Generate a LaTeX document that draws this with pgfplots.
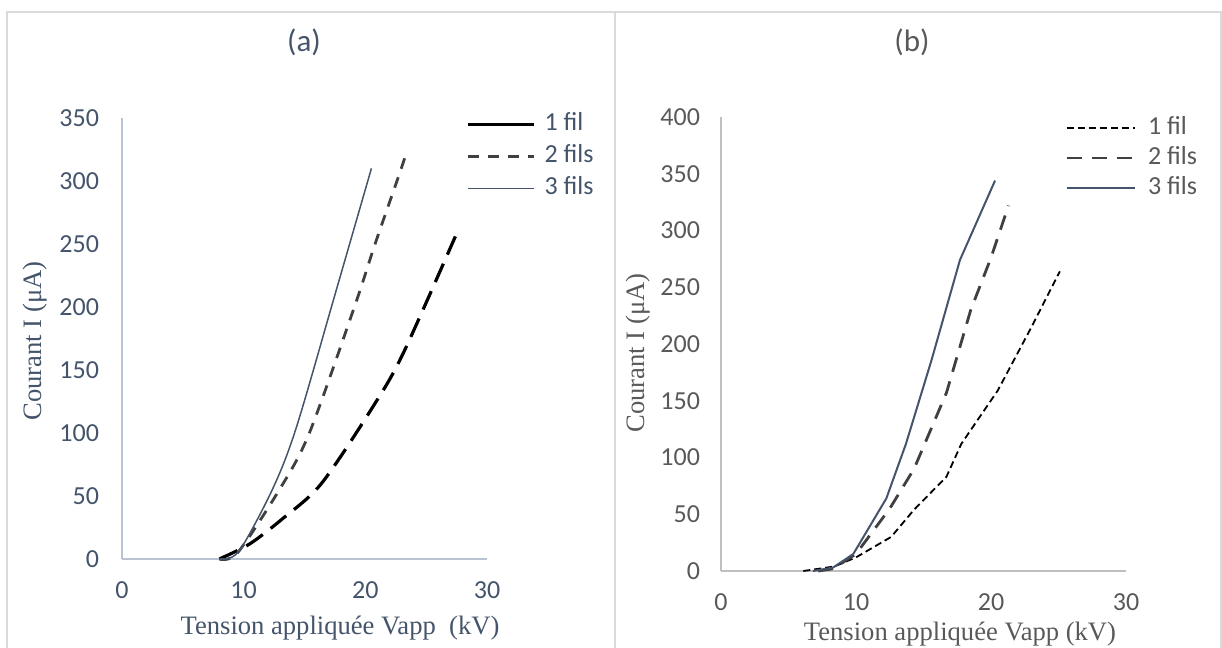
\documentclass[border=0pt]{standalone}
\usepackage{fontspec}
\setmainfont{Liberation Serif}
\newfontfamily\calibri{Carlito}
\usepackage{pgfplots}
\pgfplotsset{compat=1.18}
\definecolor{slate}{HTML}{44546A}
\definecolor{dgray}{HTML}{404040}
\definecolor{axA}{RGB}{185,195,210}
\definecolor{axB}{RGB}{191,191,191}
\definecolor{txB}{HTML}{595959}
\definecolor{frameC}{RGB}{217,217,217}
\pgfplotsset{
  mystyle/.style={
    scale only axis, anchor=south west, axis lines=left, axis line style={-},
    major tick length=0pt, xmin=0, xmax=30, ymin=0,
    xtick={0,10,20,30},
    ticklabel style={font=\calibri\fontsize{13}{15.6}\selectfont},
    /pgf/number format/assume math mode=true,
    xticklabel style={yshift=-8pt},
    yticklabel style={xshift=-8pt},
    clip=false,
    legend cell align=left,
    legend image code/.code={\draw[##1] (0pt,0pt) -- (33pt,0pt);},
    legend style={draw=none, fill=none, inner sep=0pt, column sep=5pt, row sep=3pt,
      font=\calibri\fontsize{13}{15.6}\selectfont,
      nodes={inner sep=0pt, text height=9pt, text depth=3pt}},
  }
}
\begin{document}
\begin{tikzpicture}
\useasboundingbox (0pt,0pt) rectangle (611pt,324pt);
\draw[frameC, line width=0.75pt] (3.5pt,0pt) -- (3.5pt,318pt) -- (610.5pt,318pt) -- (610.5pt,0pt);
\draw[frameC, line width=0.75pt] (307.5pt,0pt) -- (307.5pt,318pt);

% ---------- panel (a)
\begin{axis}[mystyle, at={(61pt,44.5pt)}, width=182.5pt, height=220.5pt,
  ymax=350, ytick={0,50,...,350},
  axis line style={axA, line width=0.8pt},
  ticklabel style={text=slate},
  legend style={text=slate, row sep=4pt, column sep=4.5pt, at={(rel axis cs:0.9425,1.0130)}, anchor=north west}]
\addplot[black, line width=1.6pt, dash pattern=on 10pt off 5pt, smooth, legend image post style={solid}]
  coordinates {(8,0) (10.5,12) (13.2,32) (16.4,60) (20.7,122) (23.1,163) (27.4,256)};
\addlegendentry{1 fil}
\addplot[dgray, line width=1.4pt, dash pattern=on 5.5pt off 4.5pt, smooth]
  coordinates {(8,0) (9.5,5) (13,56) (15.4,100) (19.1,200) (20.8,250) (22.6,300) (23.3,320)};
\addlegendentry{2 fils}
\addplot[slate, line width=0.75pt, smooth]
  coordinates {(8,0) (9.6,6) (12.4,56) (14.35,105) (17.6,213) (20.5,310)};
\addlegendentry{3 fils}
\end{axis}

% ---------- panel (b)
\begin{axis}[mystyle, at={(360.5pt,38.5pt)}, width=202.5pt, height=227pt,
  ymax=400, ytick={0,50,...,400},
  axis line style={axB, line width=0.8pt},
  ticklabel style={text=txB},
  yticklabel style={xshift=1pt},
  legend image code/.code={\draw[#1] (0pt,0pt) -- (34pt,0pt);},
  legend style={text=txB, row sep=3pt, column sep=6pt, at={(rel axis cs:0.849,1.003)}, anchor=north west}]
\addplot[black, line width=0.9pt, dash pattern=on 3.5pt off 2pt]
  coordinates {(6.1,0) (8.4,4) (10,12) (12.6,30) (14.3,54) (16.7,83) (17.8,112) (20.5,159) (23,215) (25.1,264)};
\addlegendentry{1 fil}
\addplot[dgray, line width=1.4pt, dash pattern=on 7.5pt off 5pt]
  coordinates {(7.2,0) (8.3,2) (10,15) (12.5,55) (14.3,90) (16.7,157) (18.5,230) (20,276) (21.3,322)};
\addlegendentry{2 fils}
\addplot[slate, line width=1pt]
  coordinates {(6.8,0) (8.3,3) (9.8,15) (12.25,64) (13.7,112) (15.6,186) (17.7,274) (20.3,344)};
\addlegendentry{3 fils}
\end{axis}

% ---------- titles and axis labels
\node[text=slate, font=\calibri\fontsize{15.5}{18}\selectfont] at (152pt,303pt) {(a)};
\node[text=txB, font=\calibri\fontsize{15.5}{18}\selectfont] at (456pt,303pt) {(b)};
\node[text=slate, rotate=90, font=\fontsize{13.3}{16}\selectfont] at (17.5pt,153.5pt) {Courant I (μA)};
\node[text=txB, rotate=90, font=\fontsize{13.3}{16}\selectfont] at (319pt,147.5pt) {Courant I (μA)};
\node[text=slate, font=\fontsize{13.3}{16}\selectfont] at (170pt,10pt) {Tension appliquée Vapp\ \ (kV)};
\node[text=txB, font=\fontsize{13.3}{16}\selectfont] at (480pt,7pt) {Tension appliquée Vapp (kV)};
\end{tikzpicture}
\end{document}
